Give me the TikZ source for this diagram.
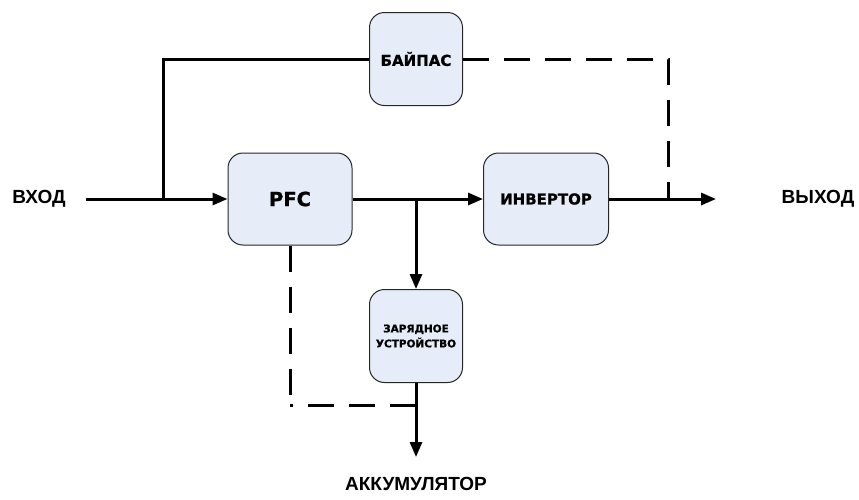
\documentclass[tikz,border=0pt]{standalone}
\usepackage{fontspec}
\setmainfont{Liberation Sans}
\newfontfamily\zhirnyj[BoldFeatures={FakeBold=1.2}]{DejaVu Sans}
\usetikzlibrary{arrows.meta}
\definecolor{zalivka}{RGB}{231,237,248}

\begin{document}
\begin{tikzpicture}[x=1pt,y=-1pt,
    blok/.style={draw=black!85,line width=1pt,fill=zalivka,rounded corners=15pt,
      minimum width=93pt,minimum height=93pt,align=center},
    vod/.style={line width=3pt},
    puncht/.style={line width=3pt,dash pattern=on 26pt off 15pt},
    strelka/.style={-{Triangle[length=15pt,width=12pt]}},
    nadpis/.style={font=\bfseries\fontsize{19}{21}\selectfont}]
  \useasboundingbox (0,0) rectangle (859,499);
  % bloki
  \node[blok,font=\zhirnyj\bfseries\fontsize{15}{17}\selectfont] (bajpas) at (416,59) {БАЙПАС};
  \node[blok,minimum width=124pt,minimum height=92pt,font=\zhirnyj\bfseries\fontsize{19.5}{21}\selectfont] (pfc) at (290,199) {PFC};
  \node[blok,minimum width=125pt,minimum height=92pt,font=\zhirnyj\bfseries\fontsize{15}{17}\selectfont] (invertor) at (546,199) {ИНВЕРТОР};
  \node[blok,font=\zhirnyj\bfseries\fontsize{10.5}{15}\selectfont] (zarjad) at (416,336) {ЗАРЯДНОЕ\\УСТРОЙСТВО};
  % nadpisi
  \node[nadpis] (vhod) at (39,199) {ВХОД};
  \node[nadpis] (vyhod) at (818,199) {ВЫХОД};
  \node[nadpis] (akkum) at (416,484) {АККУМУЛЯТОР};
  % uzly
  \coordinate (v1) at (163,199);
  \coordinate (v2) at (163,59);
  \coordinate (v3) at (416,199);
  \coordinate (v4) at (668,59);
  \coordinate (v5) at (668,199);
  \coordinate (v6) at (290,405);
  \coordinate (v7) at (416,405);
  \coordinate (konec) at (716,199);
  \coordinate (niz) at (416,457);
  % linii
  \draw[vod,strelka] (86,199) -- (pfc.west);
  \draw[vod] (v1) -- (v2) -- (bajpas.west);
  \draw[vod,strelka] (pfc.east) -- (invertor.west);
  \draw[vod,strelka] (v3) -- (zarjad.north);
  \draw[vod,strelka] (invertor.east) -- (konec);
  \draw[vod,strelka] (zarjad.south) -- (niz);
  \draw[puncht] (bajpas.east) -- (v4) -- (v5);
  \draw[puncht] (pfc.south) -- (v6);
  \draw[puncht] (v7) -- (v6);
\end{tikzpicture}
\end{document}
